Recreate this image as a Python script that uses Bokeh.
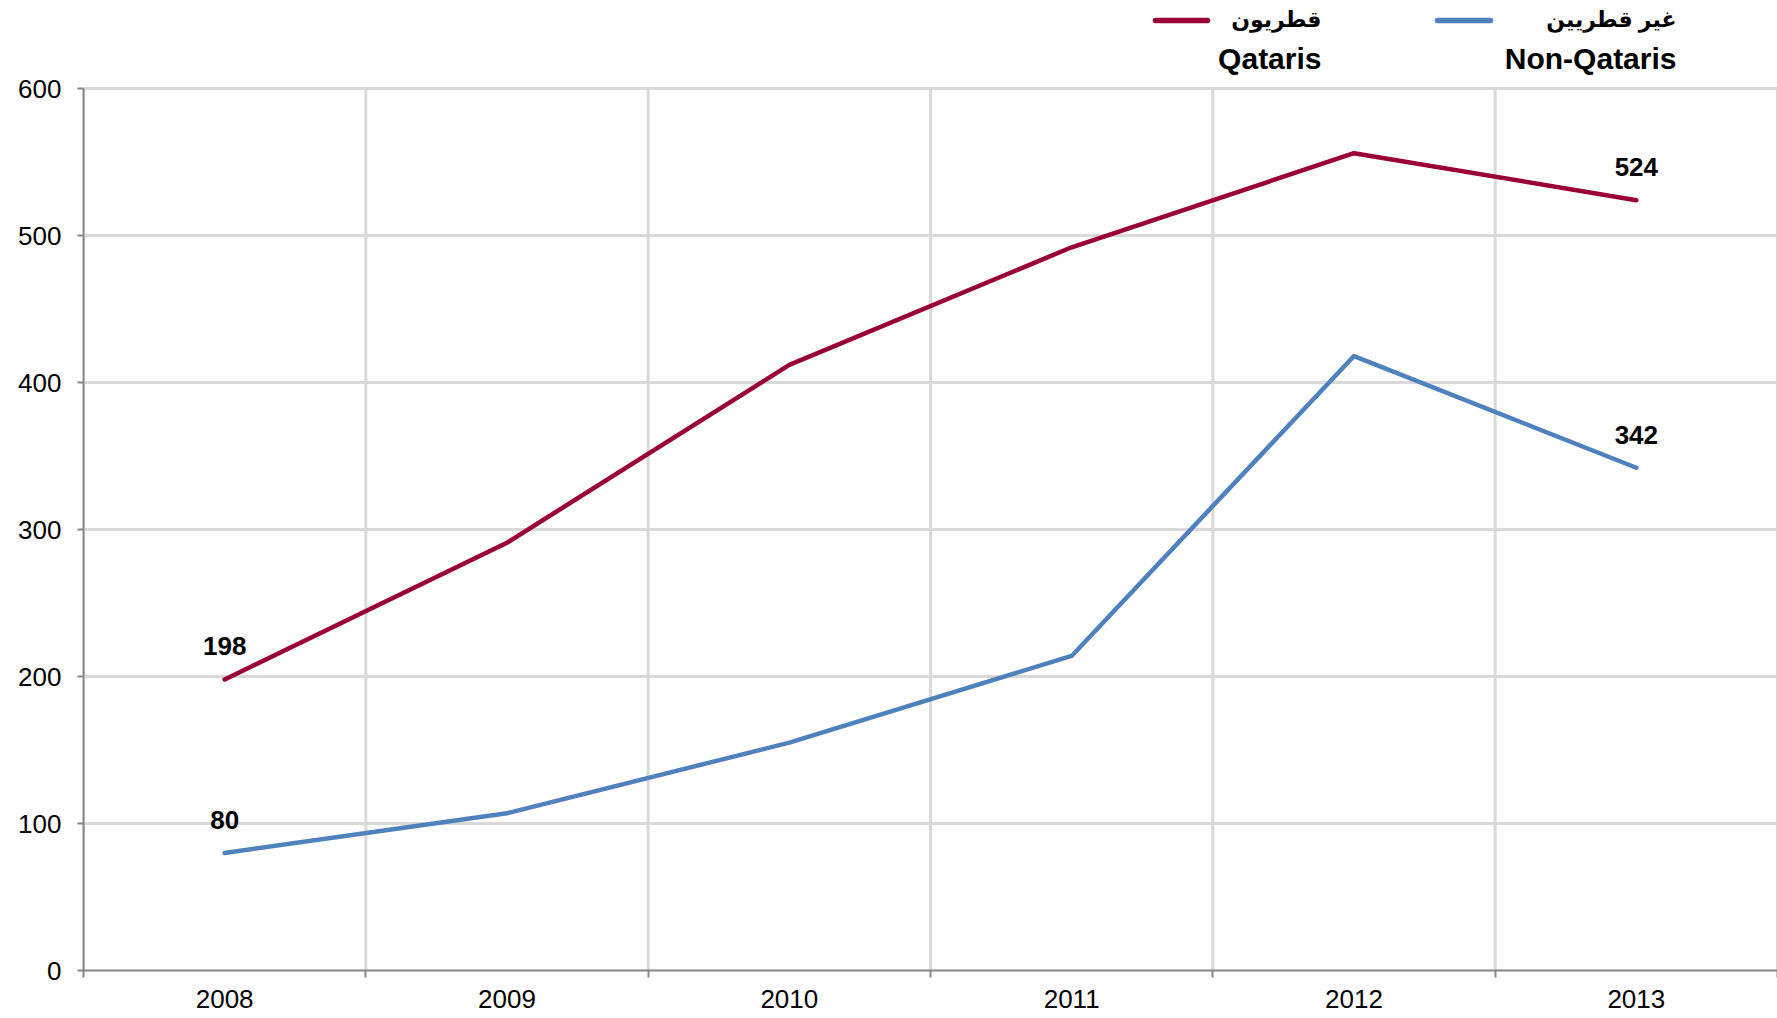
from bokeh.plotting import figure
from bokeh.models import FixedTicker, Range1d, ColumnDataSource
from bokeh.core.properties import value
from bokeh.embed import file_html
from bokeh.resources import INLINE

years = ["2008", "2009", "2010", "2011", "2012", "2013"]
qataris = [198, 291, 412, 492, 556, 524]
non_qataris = [80, 107, 155, 214, 418, 342]
y_ticks = [0, 100, 200, 300, 400, 500, 600]
legend_ar = ["قطريون", "غير قطريين"]
legend_en = ["Qataris", "Non-Qataris"]

RED = "#990033"
BLUE = "#4F81BD"
GRID = "#D9D9D9"
AXIS = "#868686"
FONT = "Liberation Sans, Arial, DejaVu Sans, sans-serif"

# layout in pixels
W, H = 1777, 1018
FRAME_L, FRAME_R = 83, 1777
Y_TOP_PX, Y_ZERO_PX = 88, 970   # pixel rows of 600 and 0
YMAX = 600
frame_w = FRAME_R - FRAME_L
plot_h = Y_ZERO_PX - Y_TOP_PX
y_hi = YMAX * Y_ZERO_PX / plot_h   # range extends up to page top (room for legend)

xs = [i + 0.5 for i in range(len(years))]
bounds = [i for i in range(len(years) + 1)]

p = figure(width=W, height=H, output_backend="svg", toolbar_location=None,
           x_range=Range1d(0, len(years)), y_range=Range1d(0, y_hi),
           min_border_left=FRAME_L, min_border_right=W - FRAME_R, min_border_top=0,
           min_border_bottom=H - Y_ZERO_PX)
p.outline_line_color = None
p.background_fill_color = "white"
p.border_fill_color = "white"

# x axis
p.xaxis.ticker = FixedTicker(ticks=xs, minor_ticks=bounds)
p.xaxis.major_label_overrides = {x: y for x, y in zip(xs, years)}
p.xaxis.major_tick_out = 0
p.xaxis.major_tick_in = 0
p.xaxis.minor_tick_out = 7
p.xaxis.minor_tick_in = 0
p.xaxis.minor_tick_line_color = AXIS
p.xaxis.minor_tick_line_width = 2
p.xaxis.axis_line_color = AXIS
p.xaxis.axis_line_width = 2
p.xaxis.major_label_text_font = FONT
p.xaxis.major_label_text_font_size = "26px"
p.xaxis.major_label_text_color = "black"
p.xaxis.major_label_standoff = 12

# y axis
p.yaxis.ticker = FixedTicker(ticks=y_ticks)
p.yaxis.bounds = (0, YMAX)
p.yaxis.minor_tick_line_color = None
p.yaxis.major_tick_out = 6
p.yaxis.major_tick_in = 0
p.yaxis.major_tick_line_color = AXIS
p.yaxis.major_tick_line_width = 2
p.yaxis.axis_line_color = AXIS
p.yaxis.axis_line_width = 2
p.yaxis.major_label_text_font = FONT
p.yaxis.major_label_text_font_size = "26px"
p.yaxis.major_label_text_color = "black"
p.yaxis.major_label_standoff = 16

# grids
p.xgrid.grid_line_color = None
p.ygrid.ticker = FixedTicker(ticks=y_ticks)
p.ygrid.grid_line_color = GRID
p.ygrid.grid_line_width = 3
p.segment(x0=bounds, y0=[0] * len(bounds), x1=bounds, y1=[YMAX] * len(bounds),
          line_color=GRID, line_width=3)

src = ColumnDataSource(dict(x=xs, q=qataris, n=non_qataris))
p.line("x", "q", source=src, line_color=RED, line_width=4.5, line_cap="round",
       line_join="round")
p.line("x", "n", source=src, line_color=BLUE, line_width=4.5, line_cap="round",
       line_join="round")

# end-point labels
lab = ColumnDataSource(dict(
    x=[xs[0], xs[-1], xs[0], xs[-1]],
    y=[qataris[0], qataris[-1], non_qataris[0], non_qataris[-1]],
    t=[str(qataris[0]), str(qataris[-1]), str(non_qataris[0]), str(non_qataris[-1])]))
p.text("x", "y", text="t", source=lab, text_font=value(FONT), text_font_style="bold",
       text_font_size="26px", text_color="black", text_align="center",
       text_baseline="middle", y_offset=-33)

# legend, drawn above the 600 line
def dx(px):
    return (px - FRAME_L) / frame_w * len(years)
def dy(py):
    return (Y_ZERO_PX - py) / plot_h * YMAX

leg_pos = [(1155, 1207, 1321), (1437, 1490, 1676)]
for color, ar, en, (lx0, lx1, tx) in zip([RED, BLUE], legend_ar, legend_en, leg_pos):
    p.line(x=[dx(lx0), dx(lx1)], y=[dy(20), dy(20)], line_color=color, line_width=5.5,
           line_cap="round")
    p.text(x=[dx(tx)], y=[dy(19)], text=[ar], text_font=value(FONT), text_font_style="bold",
           text_font_size="22px", text_color="black", text_align="right",
           text_baseline="middle")
    p.text(x=[dx(tx)], y=[dy(58)], text=[en], text_font=value(FONT), text_font_style="bold",
           text_font_size="30px", text_color="black", text_align="right",
           text_baseline="middle")

open("out.html", "w").write(file_html(p, INLINE))
